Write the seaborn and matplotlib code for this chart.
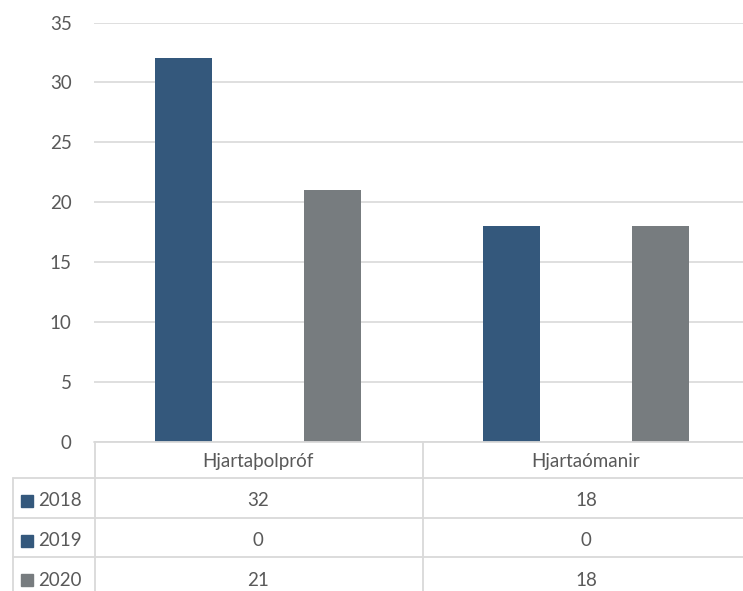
import seaborn as sns
import matplotlib.pyplot as plt
import matplotlib.transforms as mtransforms
from matplotlib.lines import Line2D
from matplotlib.patches import Rectangle
import pandas as pd

# data
categories = ['Hjartaþolpróf', 'Hjartaómanir']
years = ['2018', '2019', '2020']
values_2018 = [32, 18]
values_2019 = [0, 0]
values_2020 = [21, 18]
colors = ['#34587C', '#34587C', '#777C7F']

series = {'2018': values_2018, '2019': values_2019, '2020': values_2020}
rows = []
for yr in years:
    for cat, v in zip(categories, series[yr]):
        rows.append({'cat': cat, 'year': yr, 'value': v})
df = pd.DataFrame(rows)

sns.set_style('white')
plt.rcParams['font.family'] = ['Lato', 'DejaVu Sans']
text_col = '#595959'
grid_col = '#D9D9D9'

W, H = 743, 591
fig = plt.figure(figsize=(W / 100, H / 100), dpi=100)

# plot area (extends past right edge like the original crop)
x0, x1 = 94, 750
y_top, y_zero = 22.5, 442
ax = fig.add_axes([x0 / W, 1 - y_zero / H, (x1 - x0) / W, (y_zero - y_top) / H])

sns.barplot(data=df, x='cat', y='value', hue='year', hue_order=years,
            palette=colors, width=0.677, gap=0.23, ax=ax, legend=False,
            saturation=1, edgecolor='none')

ax.set_xlim(-0.5, 1.5)
ax.set_ylim(0, 35)
ax.set_yticks(range(0, 36, 5))
ax.yaxis.grid(True, color=grid_col, lw=1.2)
ax.set_axisbelow(True)
for s in ax.spines.values():
    s.set_visible(False)
ax.set_xticks([])
ax.set_xlabel('')
ax.set_ylabel('')
ax.tick_params(axis='y', length=0, pad=16, labelsize=13.5, labelcolor=text_col)

# data table below the plot
tr = mtransforms.blended_transform_factory(ax.transData, fig.transFigure)
fy = lambda p: 1 - p / H
fx = lambda p: p / W

line_kw = dict(color=grid_col, lw=1.3, transform=fig.transFigure, clip_on=False)
# horizontal lines
fig.add_artist(Line2D([fx(94), 1], [fy(442), fy(442)], **line_kw))
for yy in [478, 518, 557]:
    fig.add_artist(Line2D([fx(13), 1], [fy(yy), fy(yy)], **line_kw))
# vertical lines
for xx in [95, 423]:
    fig.add_artist(Line2D([fx(xx), fx(xx)], [fy(442), 0], **line_kw))
fig.add_artist(Line2D([fx(13), fx(13)], [fy(478), 0], **line_kw))

# header
for i, cat in enumerate(categories):
    fig.text(i, fy(462), cat, transform=tr, ha='center', va='center',
             fontsize=13.5, color=text_col)

row_centers = [501, 541, 580]
for yr, col, yc in zip(years, colors, row_centers):
    fig.add_artist(Rectangle((fx(21), fy(yc + 6)), 12 / W, 12 / H,
                             transform=fig.transFigure, color=col))
    fig.text(fx(38), fy(yc), yr, ha='left', va='center',
             fontsize=13.5, color=text_col)
    for i, v in enumerate(series[yr]):
        fig.text(i, fy(yc), str(v), transform=tr, ha='center', va='center',
                 fontsize=13.5, color=text_col)

fig.savefig('out.png', dpi=100)
